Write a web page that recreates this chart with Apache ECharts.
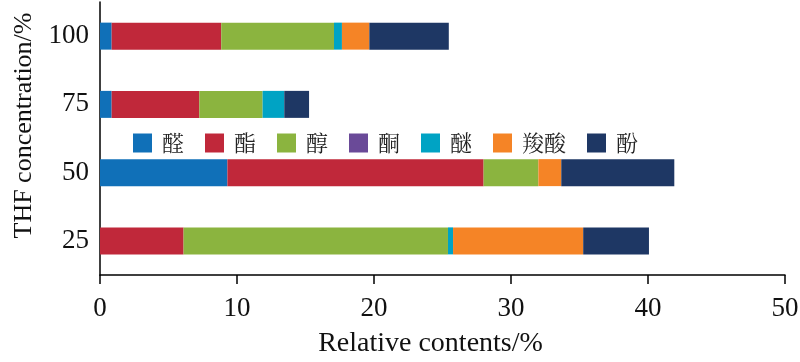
<!DOCTYPE html>
<html><head><meta charset="utf-8">
<script src="https://cdn.jsdelivr.net/npm/echarts@6/dist/echarts.min.js"></script>
<style>html,body{margin:0;padding:0;background:#fff}#c{width:800px;height:362px}</style>
</head><body><div id="c"></div>
<script>
const categories = ['25', '50', '75', '100'];
const seriesNames = ['醛', '酯', '醇', '酮', '醚', '羧酸', '酚'];
const aldehyde = [0, 9.3, 0.85, 0.85];
const ester = [6.1, 18.7, 6.4, 8.0];
const alcohol = [19.3, 4.0, 4.62, 8.23];
const ketone = [0, 0, 0, 0];
const ether = [0.37, 0, 1.58, 0.58];
const acid = [9.5, 1.67, 0, 2.0];
const phenol = [4.8, 8.25, 1.81, 5.8];
const xTicks = [0, 10, 20, 30, 40, 50];

const colors = ['#1070b8', '#c0283a', '#8bb43f', '#6a4a98', '#00a3c4', '#f58426', '#1e3764'];
const allData = [aldehyde, ester, alcohol, ketone, ether, acid, phenol];
const serif = '"Liberation Serif", "Times New Roman", "Noto Serif CJK SC", "Noto Sans CJK SC", serif';

const chart = echarts.init(document.getElementById('c'));
chart.setOption({
  animation: false,
  color: colors,
  legend: {
    left: 133, top: 132, padding: 0,
    itemWidth: 19, itemHeight: 19, itemGap: 21,
    icon: 'rect',
    data: seriesNames,
    textStyle: { fontFamily: '"Noto Serif CJK SC", "Noto Sans CJK SC", serif', fontSize: 22, color: '#222', padding: [0, 0, 0, 5] }
  },
  grid: { left: 100, right: 15, top: 2, bottom: 87, containLabel: false, outerBoundsMode: 'none' },
  xAxis: {
    type: 'value', min: xTicks[0], max: xTicks[xTicks.length - 1], interval: 10,
    name: 'Relative contents/%', nameLocation: 'middle', nameGap: 55,
    nameTextStyle: { fontFamily: serif, fontSize: 28, color: '#111', padding: [0, 24, 0, 0] },
    axisLine: { show: true, lineStyle: { color: '#000', width: 1.5 } },
    axisTick: { show: true, inside: false, length: 9, lineStyle: { color: '#000', width: 1.5 } },
    axisLabel: { fontFamily: serif, fontSize: 27, color: '#111', margin: 20 },
    splitLine: { show: false }
  },
  yAxis: {
    type: 'category', data: categories,
    name: 'THF concentration/%', nameLocation: 'middle', nameGap: 63, nameRotate: 90,
    nameTextStyle: { fontFamily: serif, fontSize: 26, color: '#111', padding: [0, 0, 0, 26] },
    axisLine: { show: true, lineStyle: { color: '#000', width: 1.5 } },
    axisTick: { show: false },
    axisLabel: { fontFamily: serif, fontSize: 27, color: '#111', margin: 11 }
  },
  series: seriesNames.map((n, i) => ({
    name: n, type: 'bar', stack: 'total', barWidth: 27,
    data: allData[i],
    itemStyle: { color: colors[i] }
  }))
});
</script></body></html>
